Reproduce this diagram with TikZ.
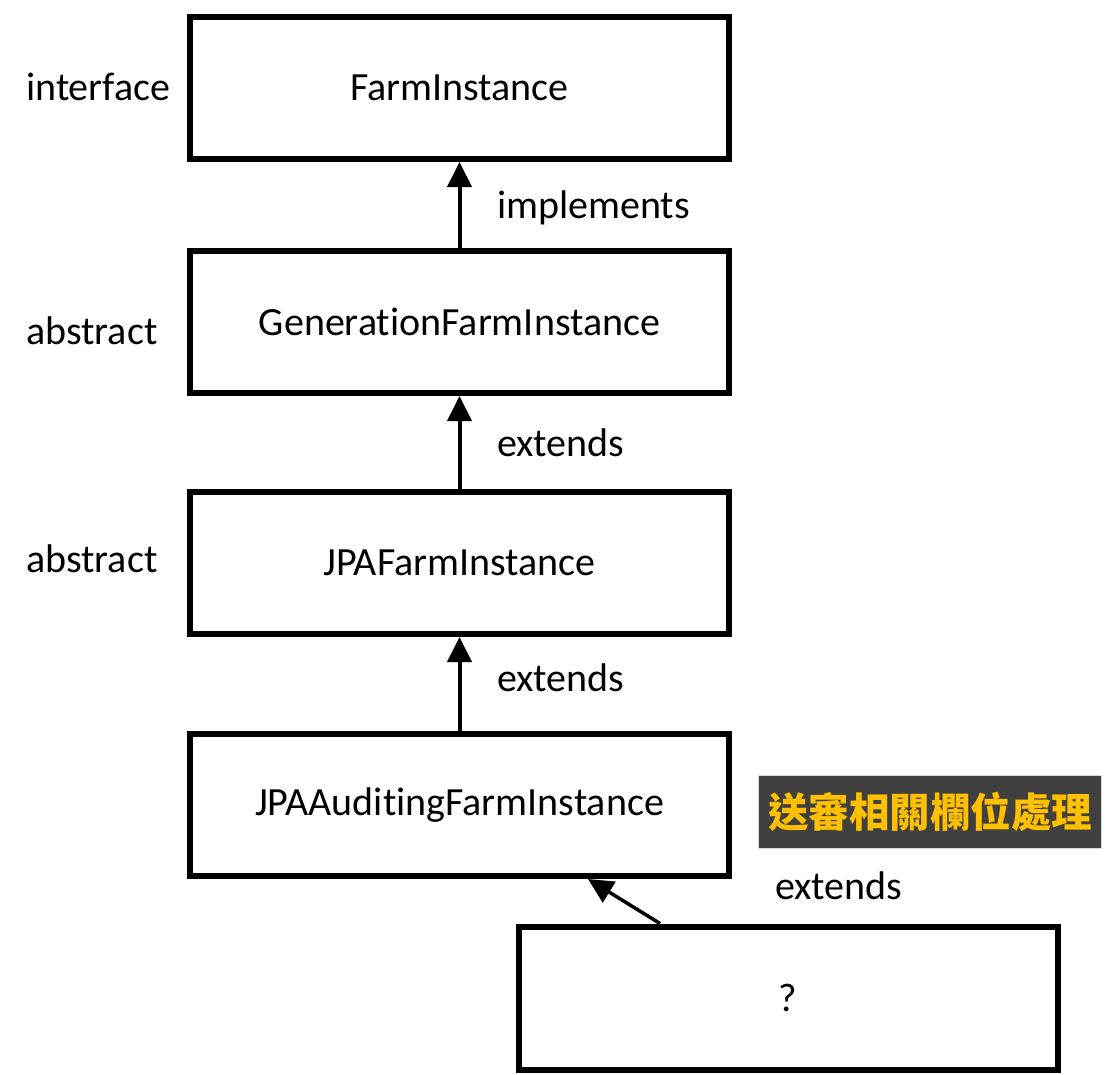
\documentclass[tikz,border=0pt]{standalone}
\usepackage{fontspec}
\setmainfont{Carlito}[Ligatures=NoCommon]
\newfontfamily\cjkfont{Noto Sans CJK TC}
\usetikzlibrary{arrows.meta}
\definecolor{tagbg}{HTML}{404040}
\definecolor{tagfg}{HTML}{FFC000}
\tikzset{
  cls/.style={draw=black, line width=6pt, fill=white, minimum width=539pt, minimum height=142pt, inner sep=0pt, font=\fontsize{40}{48}\selectfont},
  lbl/.style={inner sep=0pt, font=\fontsize{40}{48}\selectfont},
  inh/.style={draw=black, line width=4pt, -{Triangle[length=25pt,width=24pt]}},
}
\begin{document}
\begin{tikzpicture}[x=1pt,y=-1pt]
\useasboundingbox (0,0) rectangle (1118,1074);
\node[cls] (fi)  at (459.5,88)  {FarmInstance};
\node[cls] (gfi) at (459.5,322)   {GenerationFarmInstance};
\node[cls] (jfi) at (459.5,563)   {JPAFarmInstance};
\node[cls] (jafi) at (459.5,805) {JPAAuditingFarmInstance};
\node[cls, minimum width=539pt, minimum height=143pt] (q) at (788,998) {?};

\node[lbl, anchor=base west] (l1) at (26,100) {interface};
\node[lbl, anchor=base west] (l2) at (26,344) {abstract};
\node[lbl, anchor=base west] (l3) at (26,572) {abstract};

\draw[inh] (gfi.north) -- (fi.south);
\draw[inh] (jfi.north) -- (gfi.south);
\draw[inh] (jafi.north) -- (jfi.south);
\coordinate (xs) at (660,0);
\coordinate (xe) at (588,0);
\draw[inh, line width=3.5pt] (q.north -| xs) -- (jafi.south -| xe);

\node[lbl, anchor=base west] (e0) at (497,218) {implements};
\node[lbl, anchor=base west] (e1) at (497,456) {extends};
\node[lbl, anchor=base west] (e2) at (497,691) {extends};
\node[lbl, anchor=base west] (e3) at (775,899) {extends};

\node[fill=tagbg, draw=black!15, line width=0.8pt, minimum width=343pt, minimum height=73pt, inner sep=0pt,
      text=tagfg, font=\cjkfont\bfseries\fontsize{40.5}{46}\selectfont] (tag) at (930,812) {送審相關欄位處理};
\end{tikzpicture}
\end{document}
